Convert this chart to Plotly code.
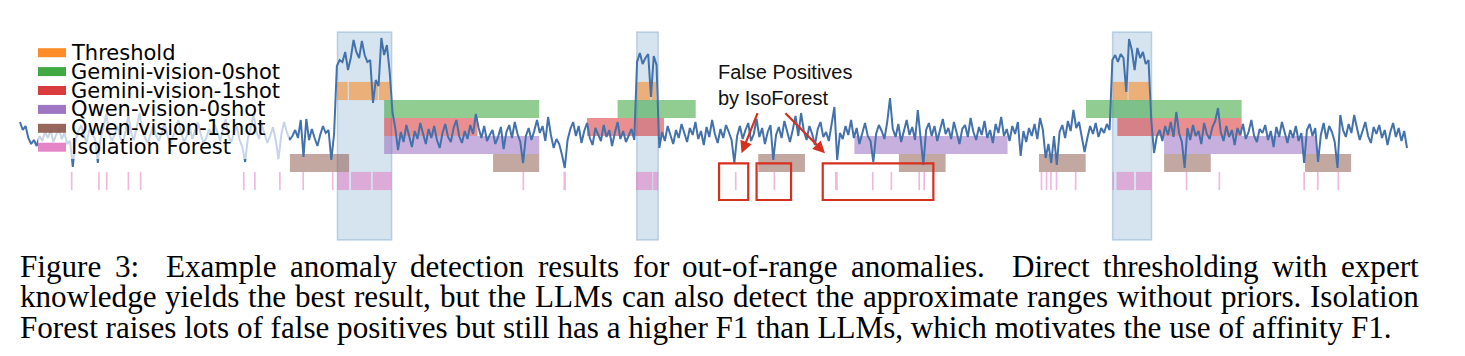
import plotly.graph_objects as go

# ---------------- data ----------------
signal = [
    28, 20, 24, 12, 6, 10, 4, 14, 9, 18,
    12, 20, 8, 15, 22, 11, 17, 6, 9, -17,
    10, 19, 25, 14, 8, 21, 16, 11, -13, 12,
    22, 36, 18, 9, 15, 24, 13, 6, 19, 35,
    17, 10, 23, 37, 20, 12, 7, 16, 25, 14,
    9, 18, 27, 15, 5, 13, 22, 30, 17, 8,
    14, 24, 11, 19, 28, 16, 7, 12, 21, 15,
    26, 18, 9, 20, 31, 14, 8, 17, 24, 10,
    3, -12, 12, 22, 36, 19, 11, 25, 16, 7,
    14, 23, 10, -9, 15, 28, 18, 10, 14, 20,
    12, 30, -7, 31, 10, 21, 12, 4, 15, 24,
    17, 20, -10, 16, 84, 90, 88, 98, 80, 92,
    110, 98, 92, 109, 95, 88, 90, 47, 70, 64,
    112, 95, 105, 78, 38, 22, 0, 18, 8, 25,
    14, 3, 19, 11, 27, 15, 6, 21, 12, 24,
    10, 2, 17, 26, 13, 8, 22, 30, 14, 7,
    19, 11, 25, 16, 36, 22, 12, 24, 9, 15,
    20, 6, 13, 23, 1, 18, 25, 12, 28, 16,
    8, -13, 14, 22, 10, 19, 30, 17, 24, 9,
    33, 15, 2, 11, 6, -5, -18, 10, 21, 28,
    14, 24, 7, 19, 27, 12, 5, 22, 16, 9,
    25, 13, 20, 4, 17, 28, 11, 19, 8, 14,
    21, 10, 88, 97, 86, 92, 96, 53, 94, 85,
    2, 18, 9, 24, 14, 6, 20, 12, 26, 17,
    8, 22, 15, 28, 11, 19, 5, 23, 13, 30,
    16, 7, 21, 12, 25, 18, 10, -13, 14, 24,
    11, 20, 27, 9, 16, 31, 13, 22, 6, 18,
    25, -10, 15, 23, 12, 29, 17, 8, 20, 34,
    14, 37, 19, 10, 24, 16, 5, 21, 28, 13,
    18, 9, 26, 43, -10, 17, 11, 24, 15, 30,
    12, 22, 6, 18, 27, 14, 9, -12, 16, 25,
    19, 11, 28, 52, 21, 13, 26, 8, 18, 30,
    15, 23, 10, 40, 12, -15, 20, 27, 14, 24,
    9, 19, 31, 16, 22, 11, 28, 17, 6, 21,
    25, 13, 32, 18, 10, 23, 15, 29, 12, 20,
    7, 26, 17, 33, 14, 21, 9, 24, 16, 28,
    -6, 19, 8, 22, 14, 26, 11, 32, 20, -8,
    6, -13, 14, -15, 18, 25, 12, 29, 19, 40,
    22, 28, 13, -2, 12, 24, 16, 27, 13, 22,
    17, 26, 20, 90, 95, 88, 96, 92, 58, 111,
    100, 80, 102, 92, 98, 86, 90, 30, -3, 14,
    20, 9, 24, 15, 28, 13, 38, 17, 8, -18,
    22, 10, 25, 14, 19, 6, 27, 16, 11, 23,
    29, 42, 18, 9, 24, 13, 20, 5, 22, 15,
    26, 11, 18, 30, 14, 8, 21, 17, 25, 10,
    19, 3, 23, 13, 28, 16, 7, 20, 12, 24,
    9, 17, -13, 20, 26, 14, 22, -12, 15, 27,
    11, 24, 18, 8, -18, 35, 20, 13, 26, 17,
    35, 22, 10, 19, 28, 14, 7, 23, 16, 25,
    12, 20, 5, 18, 27, 13, 22, 9, 19, 2,
]

anomaly_start = [114.2, 221.9, 393.1]
anomaly_end = [133.7, 229.6, 407.1]

methods = ["Threshold", "Gemini-vision-0shot", "Gemini-vision-1shot",
           "Qwen-vision-0shot", "Qwen-vision-1shot", "Isolation Forest"]

threshold_start = [114.1, 118.3, 129.1, 221.8, 227.2, 393.1, 398.8]
threshold_end = [117.9, 128.7, 133.1, 226.8, 228.8, 398.5, 406.2]
gemini0_start = [131.0, 215.0, 383.5]
gemini0_end = [186.8, 243.1, 439.5]
gemini1_start = [131.0, 204.0, 394.8]
gemini1_end = [164.6, 231.7, 439.5]
qwen0_start = [131.0, 300.2, 411.6]
qwen0_end = [186.8, 355.3, 466.5]
qwen1_start = [97.1, 170.2, 265.6, 316.2, 366.6, 411.6, 462.3]
qwen1_end = [118.4, 186.8, 282.4, 333.0, 383.4, 428.4, 478.9]
isoforest_start = [18.6, 28.4, 31.2, 39.0, 43.4, 80.5, 84.5, 93.5, 101.9, 112.5,
                   114.1, 119.1, 126.9, 181.1, 195.5, 221.6, 227.8, 257.5, 271.4,
                   293.2, 306.8, 313.5, 323.5, 325.3, 367.5, 369.3, 370.9, 372.9,
                   379.8, 393.3, 394.5, 401.5, 419.7, 431.5, 462.0, 466.9, 474.3]
isoforest_end = [18.6, 28.4, 31.2, 39.0, 43.4, 80.5, 84.5, 93.5, 101.9, 112.5,
                 118.4, 126.3, 133.7, 181.1, 196.4, 227.5, 229.6, 257.5, 271.4,
                 294.2, 306.8, 313.5, 323.5, 325.3, 367.5, 369.3, 370.9, 372.9,
                 379.8, 393.3, 400.8, 407.1, 419.7, 431.5, 462.0, 466.9, 474.3]

# false-positive highlight boxes (time ranges)
fp_box_start = [251.5, 265.0, 288.8]
fp_box_end = [262.0, 277.4, 328.6]

caption_lines = [
    "Figure 3:  Example anomaly detection results for out-of-range anomalies.  Direct thresholding with expert",
    "knowledge yields the best result, but the LLMs can also detect the approximate ranges without priors. Isolation",
    "Forest raises lots of false positives but still has a higher F1 than LLMs, which motivates the use of affinity F1.",
]

# ---------------- layout helpers ----------------
OFF = 8                      # page body margin
W, H = 1465 - 2 * OFF, 356 - 2 * OFF
X_LEFT_PX, X_RIGHT_PX = 20, 1407
STEP = (X_RIGHT_PX - X_LEFT_PX) / (len(signal) - 1)
X_RANGE = [-(X_LEFT_PX - OFF) / STEP, (W + OFF - X_LEFT_PX) / STEP]
Y_TOP_PX, Y_BOT_PX = 32, 240
Y_RANGE = [-90, 118]


def px_x(p):
    return (p - OFF) / W


def px_y(p):
    return (H - (p - OFF)) / H


# Times / Liberation Serif advance widths (1/1000 em)
TW = {' ': 250, ',': 250, '.': 250, ':': 278, '-': 333, '0': 500, '1': 500, '3': 500,
      'a': 444, 'b': 500, 'c': 444, 'd': 500, 'e': 444, 'f': 333, 'g': 500, 'h': 500,
      'i': 278, 'j': 278, 'k': 500, 'l': 278, 'm': 778, 'n': 500, 'o': 500, 'p': 500,
      'q': 500, 'r': 333, 's': 389, 't': 278, 'u': 500, 'v': 500, 'w': 722, 'x': 500,
      'y': 500, 'z': 444, 'A': 722, 'D': 722, 'E': 611, 'F': 556, 'I': 333, 'L': 611,
      'M': 889, 'S': 556}


def tw(s, fs):
    return sum(TW.get(c, 500) for c in s) / 1000.0 * fs


colors = ["255,127,14", "44,160,44", "214,39,40", "148,103,189", "140,86,75", "227,119,194"]
row_center = [59, 41, 23, 5, -13, -31]
ROW_H = 18.2

ranges = [
    (threshold_start, threshold_end),
    (gemini0_start, gemini0_end),
    (gemini1_start, gemini1_end),
    (qwen0_start, qwen0_end),
    (qwen1_start, qwen1_end),
    (isoforest_start, isoforest_end),
]

fig = go.Figure()

for name, (st, en), col, yc in zip(methods, ranges, colors, row_center):
    bases, lengths = [], []
    for s, e in zip(st, en):
        if e - s < 0.6:
            bases.append(s - 0.3)
            lengths.append(0.6)
        else:
            bases.append(s)
            lengths.append(e - s)
    fig.add_trace(go.Bar(
        name=name, orientation="h", y=[yc] * len(bases), x=lengths, base=bases,
        width=ROW_H, marker=dict(color=f"rgba({col},0.52)", line=dict(width=0)),
        showlegend=False, hoverinfo="skip",
    ))

fig.add_trace(go.Scatter(
    x=list(range(len(signal))), y=signal, mode="lines",
    line=dict(color="#4371ab", width=2), showlegend=False, hoverinfo="skip",
))

# ground-truth anomaly regions
for s, e in zip(anomaly_start, anomaly_end):
    fig.add_shape(type="rect", xref="x", yref="y domain", x0=s, x1=e, y0=0, y1=1,
                  fillcolor="rgba(70,130,180,0.22)",
                  line=dict(color="rgba(70,130,180,0.30)", width=1.5), layer="below")

# false-positive boxes
for s, e in zip(fp_box_start, fp_box_end):
    fig.add_shape(type="rect", xref="x", yref="y", x0=s, x1=e, y0=-13.3, y1=-50,
                  line=dict(color="rgb(214,48,31)", width=2.2), fillcolor="rgba(0,0,0,0)",
                  layer="above")

# arrows
arrow_heads = [(259.6, -3.3, 16.6, -41.6), (289.6, -3.3, -41.0, -41.6)]
for hx, hy, ax, ay in arrow_heads:
    fig.add_annotation(x=hx, y=hy, xref="x", yref="y", text="", showarrow=True,
                       ax=ax, ay=ay, arrowhead=2, arrowsize=1.1, arrowwidth=2.2,
                       arrowcolor="rgb(214,48,31)", standoff=0)

fig.add_annotation(x=px_x(718), y=px_y(85), xref="paper", yref="paper",
                   text="False Positives<br>by IsoForest", showarrow=False,
                   xanchor="left", yanchor="middle", align="left", borderpad=0, borderwidth=0,
                   font=dict(family="Liberation Sans, Arial", size=20, color="#111"))

# legend (manual)
fig.add_shape(type="rect", xref="paper", yref="paper", x0=px_x(38), x1=px_x(289),
              y0=px_y(159), y1=px_y(40), fillcolor="rgba(255,255,255,0.7)",
              line=dict(width=0), layer="above")
for i, (name, col) in enumerate(zip(methods, colors)):
    yc = 52.7 + 18.9 * i
    fig.add_shape(type="rect", xref="paper", yref="paper", x0=px_x(38), x1=px_x(66),
                  y0=px_y(yc + 4.5), y1=px_y(yc - 4.5), fillcolor=f"rgba({col},0.9)",
                  line=dict(width=0), layer="above")
    fig.add_annotation(x=px_x(71), y=px_y(yc), xref="paper", yref="paper", text=name,
                       showarrow=False, xanchor="left", yanchor="middle",
                       borderpad=0, borderwidth=0,
                       font=dict(family="DejaVu Sans", size=21, color="black"))

# caption (first two lines justified, last line natural width)
CAP_LEFT, CAP_RIGHT, CAP_LAST_RIGHT = 20, 1419, 1393
cap_fs = (CAP_LAST_RIGHT - CAP_LEFT) / tw(caption_lines[-1], 1.0)
cap_font = dict(family="Liberation Serif, Times New Roman", size=cap_fs, color="black")
for i, line in enumerate(caption_lines):
    yc = 266 + 30.5 * i
    if i == len(caption_lines) - 1:
        fig.add_annotation(x=px_x(CAP_LEFT), y=px_y(yc), xref="paper", yref="paper",
                           text=line, showarrow=False, xanchor="left", yanchor="middle",
                           borderpad=0, borderwidth=0, font=cap_font)
        continue
    # split into words, remembering gap weights (double spaces after sentences)
    words, gaps = [], []
    for tok in line.split(" "):
        if tok == "":
            gaps[-1] += 1
        else:
            if words:
                pass
            words.append(tok)
            gaps.append(1)
    gaps = gaps[:-1]
    total_w = sum(tw(w_, cap_fs) for w_ in words)
    extra = (CAP_RIGHT - CAP_LEFT) - total_w
    unit = extra / sum(gaps)
    x = CAP_LEFT
    for j, w_ in enumerate(words):
        fig.add_annotation(x=px_x(x), y=px_y(yc), xref="paper", yref="paper",
                           text=w_, showarrow=False, xanchor="left", yanchor="middle",
                           borderpad=0, borderwidth=0, font=cap_font)
        x += tw(w_, cap_fs)
        if j < len(gaps):
            x += unit * gaps[j]

fig.update_layout(
    width=W, height=H, margin=dict(l=0, r=0, t=0, b=0),
    paper_bgcolor="white", plot_bgcolor="white", barmode="overlay", showlegend=False,
    xaxis=dict(range=X_RANGE, domain=[0, 1], visible=False, fixedrange=True),
    yaxis=dict(range=Y_RANGE, domain=[px_y(Y_BOT_PX), px_y(Y_TOP_PX)], visible=False, fixedrange=True),
)

fig.write_html("out.html")
